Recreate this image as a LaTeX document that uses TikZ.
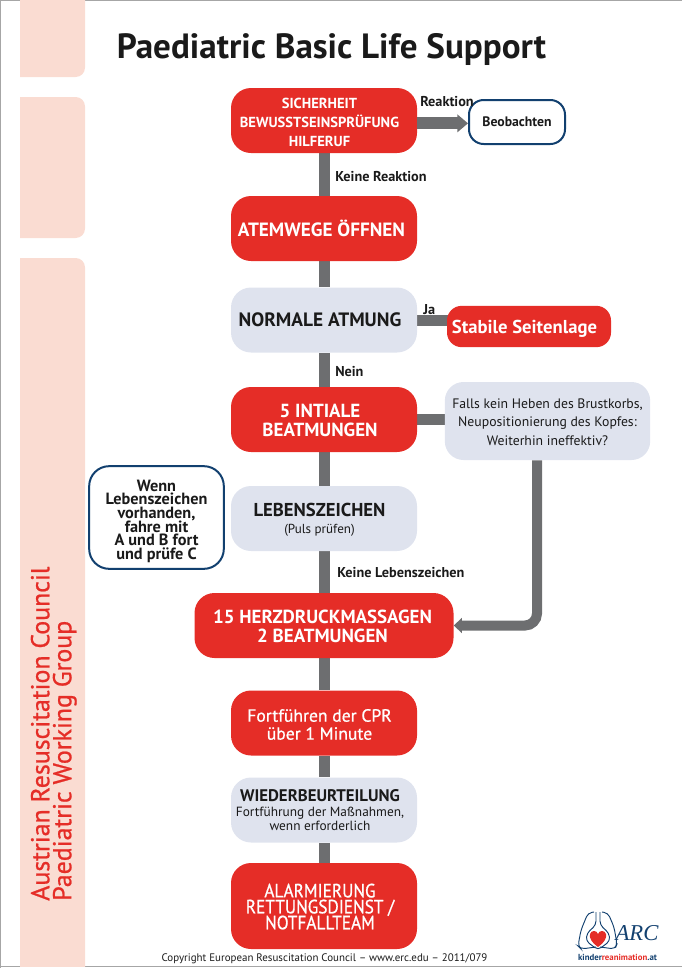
\documentclass[tikz,border=0pt]{standalone}
\usepackage{fontspec}
\setmainfont{PT Sans}
\newfontfamily\medfont[FakeBold=0.8]{PT Sans}
\newfontfamily\medcond[FakeBold=0.8,FakeStretch=0.9]{PT Sans}
\usetikzlibrary{arrows.meta,backgrounds}
\definecolor{rd}{HTML}{E52D27}
\definecolor{pale}{HTML}{DFE3EE}
\definecolor{peach}{HTML}{FADCD2}
\definecolor{navy}{HTML}{12406F}
\definecolor{gr}{HTML}{6D6E70}
\definecolor{ink}{HTML}{1A1A1A}
\newcommand{\fs}[1]{\fontsize{#1}{#1}\selectfont}
\newcommand{\fl}[2]{\fontsize{#1}{#2}\selectfont}
% #1 leftward shift in px, #2 upward shift in px, #3 centred lines
\newcommand{\lft}[3]{\raisebox{\dimexpr #2pt*3/4-0.4em\relax}[1pt][1pt]{\begin{tabular}{@{}c@{}}#3\end{tabular}}\hspace*{\dimexpr #1pt*3/2\relax}}
\tikzset{
 x=0.75pt,y=-0.75pt,
 box/.style={rounded corners=15pt,inner sep=0pt,minimum width=139.5pt,minimum height=48.75pt,font=\bfseries},
 redbox/.style={box,fill=rd,text=white},
 palebox/.style={box,fill=pale,text=ink},
 navybox/.style={box,draw=navy,line width=1.5pt,fill=white,text=ink},
 conn/.style={draw=gr,line width=8.25pt},
 arr/.style={conn,line width=9pt,-{Triangle[length=8pt,width=13pt]}},
 lab/.style={font=\bfseries\fs{10.7},text=ink,inner sep=0pt,anchor=west},
 band/.style={fill=peach,rounded corners=7pt},
}
\begin{document}
\begin{tikzpicture}
\useasboundingbox (0,0) rectangle (682,968);
\draw[gray!70,line width=0.9pt] (682,0.5) -- (0.5,0.5) -- (0.5,968);
\draw[gray!70,line width=0.9pt] (0,966.5) -- (682,966.5);
% side bands
\begin{scope}
\clip (20,0) rectangle (85,966);
\fill[band] (10,-20) rectangle (85,77);
\fill[band] (10,97) rectangle (85,238);
\fill[band] (10,258) rectangle (85,986);
\end{scope}
\node[rotate=90,align=left,anchor=south west,inner sep=0pt,text=rd,font=\medfont\fl{19.4}{16.5}] (side) at (77,901) {Austrian Resuscitation Council\\Paediatric Working Group};
\node[font=\bfseries\fs{26.3},text=ink,inner sep=0pt,anchor=center] (title) at (331.5,49) {Paediatric Basic Life Support};
% nodes
\node[redbox,font=\bfseries\fl{10.9}{14}] (b1) at (324,120.5) {\lft{4.5}{-1}{SICHERHEIT\\BEWUSSTSEINSPRÜFUNG\\HILFERUF}};
\node[navybox,minimum width=72pt,minimum height=33pt,rounded corners=11pt,font=\bfseries\fs{10.3}] (beob) at (517,122) {\lft{0}{0}{Beobachten}};
\node[redbox,font=\bfseries\fs{14.4}] (b2) at (324,228.5) {\lft{2.5}{0}{ATEMWEGE ÖFFNEN}};
\node[palebox,font=\bfseries\fs{14.5}] (b3) at (324,320) {\lft{4}{0}{NORMALE ATMUNG}};
\node[redbox,minimum width=123pt,minimum height=31pt,rounded corners=11pt,font=\bfseries\fs{14}] (stabil) at (529,326.5) {\lft{4.5}{0}{Stabile Seitenlage}};
\node[redbox,font=\bfseries\fl{14.2}{14.2}] (b4) at (324,419.5) {\lft{4}{-1}{5 INTIALE\\BEATMUNGEN}};
\node[palebox,minimum width=154pt,minimum height=58.5pt,font=\fl{10.3}{14},rounded corners=14pt] (falls) at (547.5,421) {\lft{0}{0}{Falls kein Heben des Brustkorbs,\\Neupositionierung des Kopfes:\\Weiterhin ineffektiv?}};
\node[palebox] (leben) at (324,518.5) {\lft{4.5}{-0.5}{{\fs{14}LEBENSZEICHEN}\\[1pt]{\mdseries\fs{9.8}(Puls prüfen)}}};
\node[navybox,minimum width=101pt,minimum height=77pt,font=\bfseries\fl{12.2}{10.8},rounded corners=15pt] (wenn) at (156.5,517.5) {\lft{0}{-2}{Wenn\\[-1.6pt]Lebenszeichen\\[-1.6pt]vorhanden,\\[-1.6pt]fahre mit\\[-1.6pt]A und B fort\\[-1.6pt]und prüfe C}};
\node[redbox,minimum width=194.25pt,font=\bfseries\fl{14.2}{14.2}] (b15) at (324,625.5) {\lft{1.5}{-1}{15 HERZDRUCKMASSAGEN\\2 BEATMUNGEN}};
\node[redbox,font=\medfont\fl{13.2}{13.5}] (cpr) at (324,723) {\lft{4.5}{-1}{Fortführen der CPR\\über 1 Minute}};
\node[palebox] (wied) at (324,810) {\lft{4}{-0.5}{{\bfseries\fs{12.6}WIEDERBEURTEILUNG}\\[-1pt]{\mdseries\fs{10}Fortführung der Maßnahmen,}\\[-1pt]{\mdseries\fs{10}wenn erforderlich}}};
\node[redbox,minimum height=64.5pt,font=\medcond\fl{14.4}{12}] (alarm) at (324,906) {\lft{4}{0}{ALARMIERUNG\\[-1.9pt]RETTUNGSDIENST /\\[-1.9pt]NOTFALLTEAM}};
% connectors
\begin{scope}[on background layer]
\draw[conn] (b1) -- (b2);
\draw[conn] (b2) -- (b3);
\draw[conn] (b3) -- (b4);
\draw[conn] (b4) -- (leben);
\draw[conn] (leben) -- (b15);
\draw[conn] (b15) -- (cpr);
\draw[conn] (cpr) -- (wied);
\draw[conn] (wied) -- (alarm);
\draw[conn] (b3) -- (b3 -| stabil);
\draw[conn] (b4) -- (b4 -| falls);
\coordinate (fd) at ([xshift=-7.875pt]falls.south);
\end{scope}
\draw[arr] ([yshift=-1pt]b1.east |- beob.west) -- ([yshift=-1pt]beob.west);
\draw[conn,line width=7.5pt,-{Triangle[length=6pt,width=11pt]},rounded corners=9pt] (fd) -- (fd |- b15) -- (b15.east);
% labels
\node[lab] (l1) at (420,102) {Reaktion};
\node[lab] (l2) at (335,177) {Keine Reaktion};
\node[lab] (l3) at (423,310) {Ja};
\node[lab] (l4) at (335,372) {Nein};
\node[lab] (l5) at (337,573) {Keine Lebenszeichen};
\node[inner sep=0pt,text=ink,font=\fs{8.2}] (copy) at (324.5,959) {Copyright European Resuscitation Council – www.erc.edu – 2011/079};
% logo
\draw[navy,line width=0.7pt,rounded corners=3pt] (594,912) -- (588,913) -- (581,930) -- (578,946) -- (581,949) -- (596,947);
\draw[navy,line width=0.7pt,rounded corners=3pt] (602,912) -- (608,913) -- (614,927) -- (617,944) -- (615,949) -- (600,947);
\draw[navy,line width=0.7pt,rounded corners=3pt] (596,912) -- (596,925) -- (587,933) -- (586,941) -- (598,950) -- (610,941) -- (609,933) -- (600,925) -- (600,912);
\fill[rd] (598,947) .. controls (592,943) and (589,938) .. (590,934) .. controls (591,930) and (597,930) .. (598,934) .. controls (599,930) and (605,930) .. (606,934) .. controls (607,938) and (604,943) .. (598,947) -- cycle;
\node[inner sep=0pt,text=navy,font=\fontspec{Liberation Serif}\itshape\fs{17}] (arc) at (637,933) {ARC};
\node[inner sep=0pt,font=\bfseries\fs{6.6},text=navy] (kr) at (617.5,957) {kinder\textcolor{rd}{reanimation}.at};
\end{tikzpicture}
\end{document}
